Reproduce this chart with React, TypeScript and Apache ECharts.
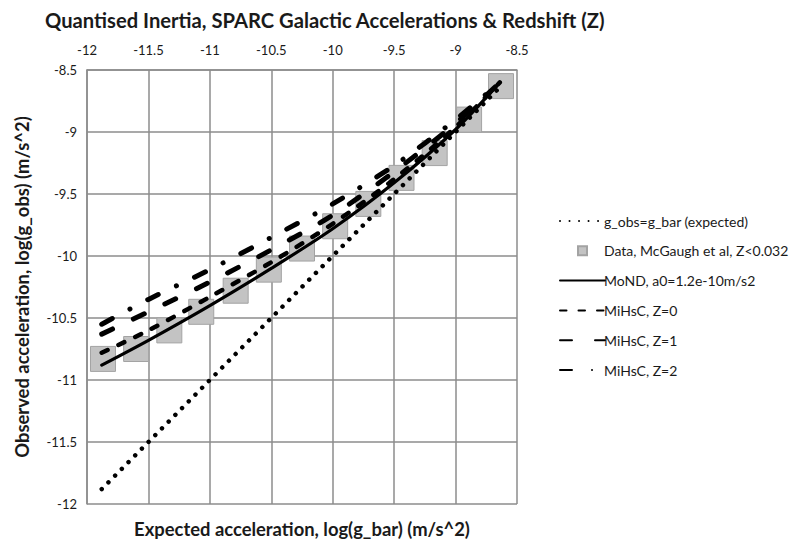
import React, { useEffect, useRef } from "react";
import * as echarts from "echarts";

// ---- Data ----
const AXIS_MIN = -12;
const AXIS_MAX = -8.5;
const AXIS_STEP = 0.5;

// g_obs = g_bar (expected) – dotted reference line end points
const expectedX = [-11.88, -8.62];
const expectedY = [-11.88, -8.62];

// Data, McGaugh et al, Z<0.032 (grey squares)
const dataX = [-11.87, -11.6, -11.33, -11.07, -10.79, -10.52, -10.25, -9.98, -9.71, -9.44, -9.17, -8.89, -8.63];
const dataY = [-10.83, -10.75, -10.6, -10.45, -10.28, -10.11, -9.94, -9.76, -9.58, -9.37, -9.17, -8.9, -8.63];

// model curves sampled at these log(g_bar) values
const modelX = [-11.88, -11.5, -11, -10.5, -10, -9.5, -9, -8.64];
const mondY = [-10.88, -10.68, -10.4, -10.1, -9.78, -9.41, -8.98, -8.6];
const mihscZ0Y = [-10.78, -10.6, -10.33, -10.05, -9.74, -9.38, -8.96, -8.6];
const mihscZ1Y = [-10.63, -10.45, -10.21, -9.95, -9.67, -9.32, -8.93, -8.6];
const mihscZ2Y = [-10.55, -10.35, -10.11, -9.85, -9.58, -9.27, -8.9, -8.6];

const seriesNames = [
  "g_obs=g_bar (expected)",
  "Data, McGaugh et al, Z<0.032",
  "MoND, a0=1.2e-10m/s2",
  "MiHsC, Z=0",
  "MiHsC, Z=1",
  "MiHsC, Z=2",
];

const titleText = "Quantised Inertia, SPARC Galactic Accelerations & Redshift (Z)";
const xAxisTitle = "Expected acceleration, log(g_bar) (m/s^2)";
const yAxisTitle = "Observed acceleration, log(g_obs) (m/s^2)";

const zip = (xs: number[], ys: number[]) => xs.map((x, i) => [x, ys[i]]);

const FONT = "Lato, 'Liberation Sans', sans-serif";

export default function App() {
  const ref = useRef<HTMLDivElement>(null);
  useEffect(() => {
    if (!ref.current) return;
    const chart = echarts.init(ref.current, undefined, { renderer: "svg" });
    const gridColor = "#8c8c8c";
    const lineBase = { color: "#000", cap: "round" as const, join: "round" as const };
    const hiddenSymbol = { itemStyle: { opacity: 0 } };
    chart.setOption({
      animation: false,
      backgroundColor: "#fff",
      color: ["#000", "#c3c3c3", "#000", "#000", "#000", "#000"],
      textStyle: { fontFamily: FONT },
      title: {
        text: titleText,
        left: 40,
        top: 5,
        textStyle: { fontFamily: FONT, fontSize: 20.2, fontWeight: "bold", color: "#1a1a1a" },
      },
      grid: { left: 87, right: 284, top: 70, bottom: 29, containLabel: false },
      legend: {
        orient: "vertical",
        left: 554,
        top: 209,
        itemWidth: 45,
        itemHeight: 9,
        itemGap: 15.8,
        textStyle: { fontFamily: FONT, fontSize: 14, lineHeight: 14, color: "#1a1a1a", padding: [0, 0, 0, -6] },
        data: [
          { name: seriesNames[0], ...hiddenSymbol },
          { name: seriesNames[1], icon: "path://M0,0h10v10h-10z" },
          { name: seriesNames[2], ...hiddenSymbol },
          { name: seriesNames[3], ...hiddenSymbol },
          { name: seriesNames[4], ...hiddenSymbol },
          { name: seriesNames[5], ...hiddenSymbol },
        ],
      },
      xAxis: [
        {
          type: "value",
          position: "top",
          min: AXIS_MIN,
          max: AXIS_MAX,
          interval: AXIS_STEP,
          axisLine: { show: true, lineStyle: { color: gridColor, width: 1.5 } },
          axisTick: { show: false },
          axisLabel: { fontFamily: FONT, fontSize: 13, color: "#1a1a1a", margin: 14 },
          splitLine: { show: true, lineStyle: { color: gridColor, width: 1.5 } },
        },
        {
          type: "value",
          position: "bottom",
          min: AXIS_MIN,
          max: AXIS_MAX,
          interval: AXIS_STEP,
          name: xAxisTitle,
          nameLocation: "middle",
          nameGap: 16,
          nameTextStyle: { fontFamily: FONT, fontSize: 18.4, fontWeight: "bold", color: "#1a1a1a" },
          axisLine: { show: false },
          axisTick: { show: false },
          axisLabel: { show: false },
          splitLine: { show: false },
        },
      ],
      yAxis: {
        type: "value",
        min: AXIS_MIN,
        max: AXIS_MAX,
        interval: AXIS_STEP,
        name: yAxisTitle,
        nameLocation: "middle",
        nameGap: 56,
        nameTextStyle: { fontFamily: FONT, fontSize: 18.4, fontWeight: "bold", color: "#1a1a1a" },
        axisLine: { show: true, lineStyle: { color: gridColor, width: 1.5 } },
        axisTick: { show: false },
        axisLabel: { fontFamily: FONT, fontSize: 13, color: "#1a1a1a", margin: 10 },
        splitLine: { show: true, lineStyle: { color: gridColor, width: 1.5 } },
      },
      series: [
        {
          name: seriesNames[0],
          type: "line",
          data: zip(expectedX, expectedY),
          symbol: "none",
          z: 4,
          itemStyle: { color: "#000" },
          lineStyle: { ...lineBase, width: 4.5, type: [0.01, 9.5] },
        },
        {
          name: seriesNames[1],
          type: "scatter",
          data: zip(dataX, dataY),
          symbol: "rect",
          symbolSize: 25,
          z: 2,
          itemStyle: { color: "#c3c3c3", borderColor: "#a3a3a3", borderWidth: 1, opacity: 1 },
        },
        {
          name: seriesNames[2],
          type: "line",
          data: zip(modelX, mondY),
          symbol: "none",
          smooth: 0.3,
          z: 5,
          itemStyle: { color: "#000" },
          lineStyle: { ...lineBase, width: 3.2, type: "solid" },
        },
        {
          name: seriesNames[3],
          type: "line",
          data: zip(modelX, mihscZ0Y),
          symbol: "none",
          smooth: 0.3,
          z: 5,
          itemStyle: { color: "#000" },
          lineStyle: { ...lineBase, width: 4.5, type: [6.5, 12] },
        },
        {
          name: seriesNames[4],
          type: "line",
          data: zip(modelX, mihscZ1Y),
          symbol: "none",
          smooth: 0.3,
          z: 5,
          itemStyle: { color: "#000" },
          lineStyle: { ...lineBase, width: 5, type: [12, 23] },
        },
        {
          name: seriesNames[5],
          type: "line",
          data: zip(modelX, mihscZ2Y),
          symbol: "none",
          smooth: 0.3,
          z: 5,
          itemStyle: { color: "#000" },
          lineStyle: { ...lineBase, width: 5, type: [12, 20, 0.01, 20] },
        },
      ],
    });
    return () => chart.dispose();
  }, []);
  return <div ref={ref} style={{ width: 801, height: 543, position: "absolute", left: 0, top: 0 }} />;
}
